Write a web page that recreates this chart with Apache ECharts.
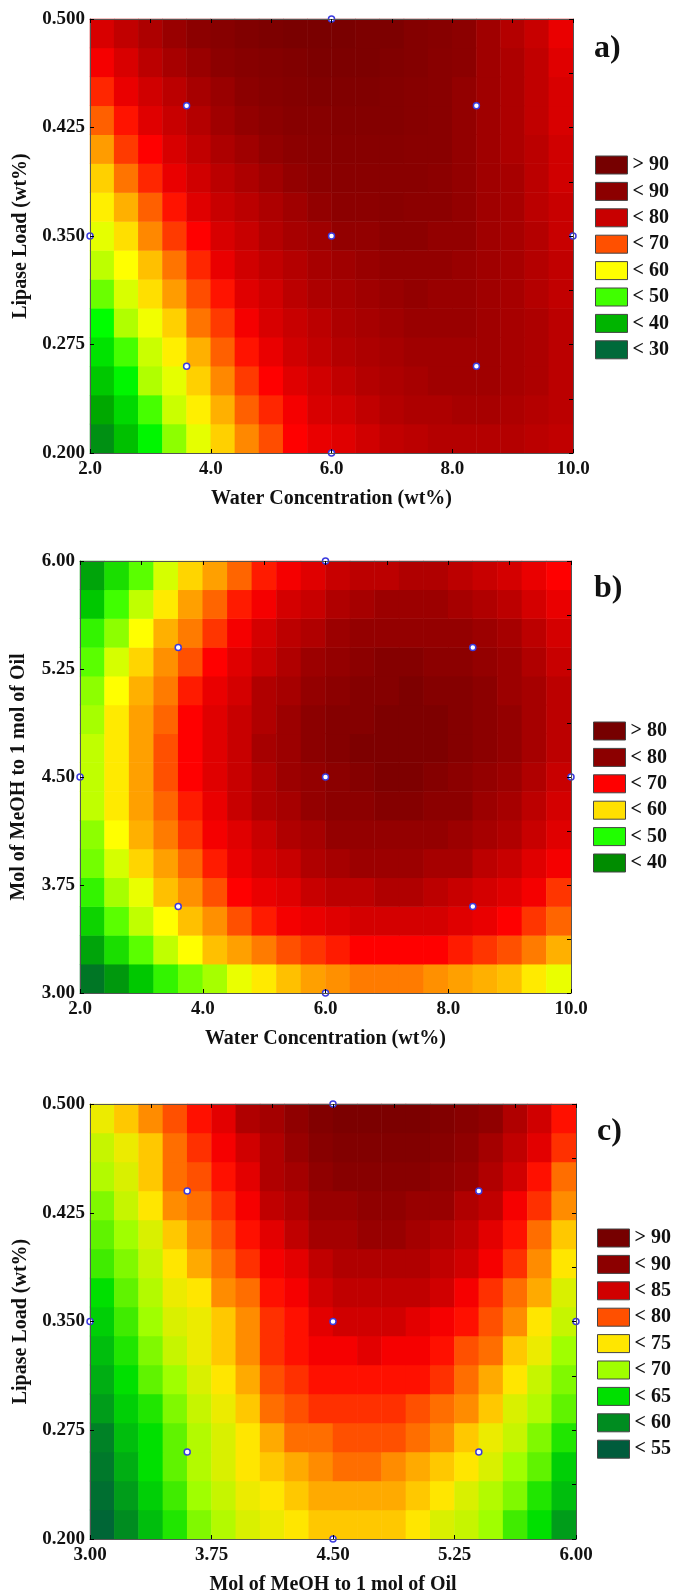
<!DOCTYPE html>
<html>
<head>
<meta charset="utf-8">
<script src="https://cdn.jsdelivr.net/npm/echarts@6/dist/echarts.min.js"></script>
<style>
  html, body { margin: 0; padding: 0; background: #fff; }
  #chart { width: 678px; height: 1596px; }
</style>
</head>
<body>
<div id="chart"></div>
<script>
// ====== 数据（从原图读取的网格值，单元格中心） ======
const waterCells = [2.2, 2.6, 3.0, 3.4, 3.8, 4.2, 4.6, 5.0, 5.4, 5.8, 6.2, 6.6, 7.0, 7.4, 7.8, 8.2, 8.6, 9.0, 9.4, 9.8];
const lipaseCells = [0.21, 0.23, 0.25, 0.27, 0.29, 0.31, 0.33, 0.35, 0.37, 0.39, 0.41, 0.43, 0.45, 0.47, 0.49];
const meohCells = [3.1, 3.3, 3.5, 3.7, 3.9, 4.1, 4.3, 4.5, 4.7, 4.9, 5.1, 5.3, 5.5, 5.7, 5.9];
const meohCellsX = [3.075, 3.225, 3.375, 3.525, 3.675, 3.825, 3.975, 4.125, 4.275, 4.425, 4.575, 4.725, 4.875, 5.025, 5.175, 5.325, 5.475, 5.625, 5.775, 5.925];

// a) 水 × 脂肪酶，行从下到上
const yieldA = [
  [34, 40, 46, 51, 56, 61, 65, 68, 72, 74, 75, 77, 79, 80, 81, 81, 81, 81, 80, 79],
  [37, 43, 49, 54, 59, 63, 67, 70, 73, 76, 77, 79, 81, 82, 82, 83, 83, 82, 81, 80],
  [41, 46, 52, 56, 61, 65, 69, 72, 75, 77, 79, 81, 82, 83, 84, 84, 84, 83, 82, 80],
  [44, 49, 54, 59, 63, 67, 71, 74, 77, 79, 81, 82, 83, 84, 84, 84, 84, 83, 82, 80],
  [47, 52, 57, 61, 66, 69, 73, 76, 78, 80, 82, 83, 84, 85, 85, 85, 84, 83, 82, 80],
  [50, 55, 60, 64, 68, 71, 75, 77, 80, 82, 83, 84, 85, 86, 85, 85, 84, 83, 81, 79],
  [53, 58, 62, 66, 70, 74, 77, 79, 81, 83, 84, 85, 86, 86, 86, 85, 84, 83, 81, 79],
  [56, 60, 65, 69, 72, 76, 78, 81, 83, 84, 86, 86, 87, 87, 86, 86, 84, 83, 81, 78],
  [59, 63, 67, 71, 75, 78, 80, 82, 84, 86, 87, 87, 88, 87, 87, 86, 84, 83, 80, 78],
  [61, 66, 70, 74, 77, 80, 82, 84, 86, 87, 88, 88, 88, 88, 87, 86, 84, 83, 80, 77],
  [64, 69, 72, 76, 79, 82, 84, 86, 87, 88, 89, 89, 89, 88, 88, 86, 84, 82, 80, 77],
  [67, 71, 75, 78, 81, 84, 86, 87, 89, 89, 90, 90, 90, 89, 88, 86, 84, 82, 79, 76],
  [70, 74, 77, 80, 83, 85, 87, 89, 90, 91, 91, 91, 90, 89, 88, 86, 84, 82, 79, 76],
  [73, 76, 80, 83, 85, 87, 89, 90, 91, 92, 92, 92, 91, 90, 88, 87, 84, 82, 79, 75],
  [76, 79, 82, 85, 87, 89, 91, 92, 93, 93, 93, 92, 92, 90, 89, 87, 84, 81, 78, 74]
];

// b) 水 × 甲醇摩尔比
const yieldB = [
  [36, 41, 45, 49, 52, 54, 57, 59, 61, 63, 64, 65, 65, 65, 64, 63, 62, 61, 59, 57],
  [42, 47, 51, 55, 58, 61, 63, 65, 67, 68, 69, 70, 70, 70, 70, 69, 68, 67, 65, 62],
  [46, 51, 55, 58, 61, 64, 67, 69, 71, 72, 73, 74, 74, 74, 74, 73, 72, 70, 68, 66],
  [49, 54, 57, 61, 64, 67, 70, 72, 73, 75, 76, 76, 77, 77, 76, 75, 74, 73, 71, 68],
  [52, 56, 60, 63, 66, 69, 72, 74, 75, 77, 78, 79, 79, 79, 78, 78, 76, 75, 73, 71],
  [53, 58, 62, 65, 68, 71, 73, 75, 77, 78, 80, 80, 80, 80, 80, 79, 78, 77, 75, 73],
  [55, 59, 63, 66, 69, 72, 75, 77, 78, 80, 81, 81, 82, 82, 81, 81, 79, 78, 76, 74],
  [55, 59, 63, 67, 70, 73, 75, 77, 79, 80, 81, 82, 83, 83, 82, 81, 80, 79, 77, 75],
  [55, 59, 63, 67, 70, 73, 75, 78, 79, 81, 82, 83, 83, 83, 83, 82, 81, 80, 78, 76],
  [54, 59, 63, 66, 70, 73, 75, 77, 79, 81, 82, 82, 83, 83, 83, 82, 81, 80, 78, 76],
  [53, 58, 62, 65, 69, 72, 74, 77, 78, 80, 81, 82, 82, 83, 82, 82, 81, 79, 78, 76],
  [51, 56, 60, 64, 67, 70, 73, 75, 77, 79, 80, 81, 82, 82, 81, 81, 80, 79, 77, 75],
  [49, 53, 58, 62, 65, 68, 71, 74, 76, 77, 79, 80, 80, 80, 80, 80, 79, 78, 76, 74],
  [45, 50, 55, 59, 63, 66, 69, 71, 74, 75, 77, 78, 79, 79, 79, 78, 77, 76, 74, 72],
  [42, 47, 51, 56, 60, 63, 66, 69, 71, 73, 75, 76, 76, 77, 77, 76, 75, 74, 72, 70]
];

// c) 甲醇摩尔比 × 脂肪酶
const yieldC = [
  [56, 60, 63, 66, 69, 71, 73, 74, 75, 76, 76, 76, 76, 75, 73, 72, 70, 67, 65, 61],
  [57, 61, 64, 67, 70, 72, 74, 75, 76, 77, 77, 77, 77, 76, 75, 73, 71, 69, 66, 63],
  [58, 62, 65, 68, 71, 73, 75, 76, 77, 78, 79, 79, 78, 77, 76, 75, 73, 70, 68, 64],
  [59, 63, 65, 68, 71, 73, 75, 77, 79, 79, 80, 80, 80, 79, 78, 76, 74, 72, 69, 66],
  [61, 64, 66, 69, 72, 74, 76, 79, 80, 81, 81, 81, 81, 80, 79, 78, 76, 73, 71, 68],
  [62, 65, 68, 70, 73, 75, 77, 80, 81, 82, 82, 82, 82, 82, 81, 79, 77, 75, 72, 69],
  [63, 66, 69, 72, 74, 76, 78, 81, 82, 83, 83, 84, 83, 83, 82, 80, 79, 76, 74, 70],
  [64, 67, 70, 73, 74, 76, 78, 81, 82, 84, 85, 85, 85, 84, 83, 82, 80, 78, 75, 72],
  [65, 68, 71, 74, 75, 78, 79, 82, 83, 85, 86, 86, 86, 86, 85, 83, 81, 79, 77, 73],
  [67, 69, 72, 75, 77, 79, 81, 83, 84, 86, 87, 87, 87, 87, 86, 85, 83, 81, 78, 75],
  [68, 70, 73, 76, 78, 80, 82, 84, 86, 88, 88, 89, 89, 88, 87, 86, 84, 82, 79, 76],
  [69, 72, 75, 78, 79, 81, 83, 86, 87, 89, 89, 90, 90, 89, 89, 87, 86, 83, 81, 78],
  [71, 73, 76, 79, 80, 82, 84, 87, 88, 90, 91, 91, 91, 91, 90, 89, 87, 85, 82, 79],
  [72, 74, 76, 79, 81, 83, 85, 87, 89, 91, 92, 92, 92, 92, 91, 90, 88, 86, 84, 81],
  [74, 76, 78, 80, 82, 84, 87, 88, 90, 92, 93, 93, 93, 93, 92, 91, 90, 87, 85, 82]
];

// 刻度
const waterTicks = [2, 4, 6, 8, 10];
const lipaseTicks = [0.2, 0.275, 0.35, 0.425, 0.5];
const meohTicks = [3, 3.75, 4.5, 5.25, 6];

// 实验设计点
const pointsA = [[2, 0.35], [3.6, 0.44], [3.6, 0.26], [6, 0.5], [6, 0.35], [6, 0.2], [8.4, 0.44], [8.4, 0.26], [10, 0.35]];
const pointsB = [[2, 4.5], [3.6, 5.4], [3.6, 3.6], [6, 6], [6, 4.5], [6, 3], [8.4, 5.4], [8.4, 3.6], [10, 4.5]];
const pointsC = [[3, 0.35], [3.6, 0.44], [3.6, 0.26], [4.5, 0.5], [4.5, 0.35], [4.5, 0.2], [5.4, 0.44], [5.4, 0.26], [6, 0.35]];

// 图例文字
const legendA = ['> 90', '< 90', '< 80', '< 70', '< 60', '< 50', '< 40', '< 30'];
const legendB = ['> 80', '< 80', '< 70', '< 60', '< 50', '< 40'];
const legendC = ['> 90', '< 90', '< 85', '< 80', '< 75', '< 70', '< 65', '< 60', '< 55'];

// ====== 样式 ======
const FONT = '"Liberation Serif", "Times New Roman", serif';
const legendColorsA = ['#760000', '#8c0000', '#c80000', '#ff5000', '#ffff00', '#40ff00', '#00b400', '#006a3a'];
const legendColorsB = ['#760000', '#8c0000', '#ff0000', '#ffe000', '#20ff00', '#008c00'];
const legendColorsC = ['#760000', '#8c0000', '#d00000', '#ff5000', '#ffe600', '#a0ff00', '#00e000', '#008c20', '#005c3c'];

// 色标锚点（值 → 颜色），按原图的细分色带取色
const stopsA = [[26, '#005a3c'], [30, '#00703a'], [36, '#00a000'], [42, '#00d000'], [47, '#00ff00'], [52, '#b0ff00'],
  [58, '#ffff00'], [63, '#ffb000'], [67, '#ff6000'], [72, '#ff0000'], [75, '#e00000'], [78, '#c80000'],
  [81, '#b40000'], [84, '#a00000'], [87, '#8c0000'], [90, '#840000'], [93, '#7a0000'], [96, '#760000']];
const stopsB = [[30, '#005a34'], [35, '#00702a'], [40, '#008c10'], [45, '#00c800'], [50, '#40ff00'], [55, '#c0ff00'],
  [58, '#ffff00'], [61, '#ffc000'], [64, '#ff9000'], [67, '#ff5000'], [70, '#ff0000'], [73, '#e00000'],
  [75, '#c80000'], [77, '#b00000'], [79, '#9c0000'], [81, '#8c0000'], [83, '#7e0000'], [86, '#760000']];
const stopsC = [[50, '#004a40'], [55, '#005c3c'], [60, '#008c20'], [65, '#00e000'], [70, '#a0ff00'], [75, '#ffe600'],
  [80, '#ff5000'], [82.5, '#ff0000'], [85, '#d00000'], [87, '#b00000'], [89, '#980000'], [91, '#880000'],
  [93, '#7c0000'], [95, '#780000']];

function hexToRgb(h) {
  const n = parseInt(h.slice(1), 16);
  return [(n >> 16) & 255, (n >> 8) & 255, n & 255];
}
function colorAt(stops, v) {
  if (v <= stops[0][0]) return stops[0][1];
  for (let k = 1; k < stops.length; k++) {
    if (v <= stops[k][0]) {
      const t = (v - stops[k - 1][0]) / (stops[k][0] - stops[k - 1][0]);
      const a = hexToRgb(stops[k - 1][1]), b = hexToRgb(stops[k][1]);
      return 'rgb(' + a.map((x, i) => Math.round(x + (b[i] - x) * t)).join(',') + ')';
    }
  }
  return stops[stops.length - 1][1];
}
// 每 1 个单位取一种颜色，近似原图的细分等值带
function scaleColors(stops) {
  const out = [];
  for (let v = stops[0][0]; v <= stops[stops.length - 1][0]; v += 1) out.push(colorAt(stops, v));
  return out;
}
function toCells(rows) {
  const out = [];
  rows.forEach((row, j) => row.forEach((v, i) => out.push([i, j, v])));
  return out;
}
function step(ticks) { return +(ticks[1] - ticks[0]).toFixed(6); }

// ====== 三个面板的布局 ======
const panels = [
  { grid: { left: 90, top: 19, width: 483, height: 434 },
    xCells: waterCells, yCells: lipaseCells, rows: yieldA, stops: stopsA,
    xTicks: waterTicks, yTicks: lipaseTicks, xDigits: 1, yDigits: 3, xMinor: 1, yMinor: 0.0375,
    xName: 'Water Concentration (wt%)', yName: 'Lipase Load (wt%)', yGap: 59,
    points: pointsA, legend: legendA, legendColors: legendColorsA, legendPos: [595, 155],
    tag: 'a)', tagPos: [594, 33] },
  { grid: { left: 80, top: 561, width: 491, height: 432 },
    xCells: waterCells, yCells: meohCells, rows: yieldB, stops: stopsB,
    xTicks: waterTicks, yTicks: meohTicks, xDigits: 1, yDigits: 2, xMinor: 1, yMinor: 0.375,
    xName: 'Water Concentration (wt%)', yName: 'Mol of MeOH to 1 mol of Oil', yGap: 51,
    points: pointsB, legend: legendB, legendColors: legendColorsB, legendPos: [593, 721],
    tag: 'b)', tagPos: [594, 573] },
  { grid: { left: 90, top: 1104, width: 486, height: 435 },
    xCells: meohCellsX, yCells: lipaseCells, rows: yieldC, stops: stopsC,
    xTicks: meohTicks, yTicks: lipaseTicks, xDigits: 2, yDigits: 3, xMinor: 0.375, yMinor: 0.0375,
    xName: 'Mol of MeOH to 1 mol of Oil', yName: 'Lipase Load (wt%)', yGap: 59,
    points: pointsC, legend: legendC, legendColors: legendColorsC, legendPos: [597, 1228],
    tag: 'c)', tagPos: [597, 1116] }
];

const labelStyle = { fontFamily: FONT, fontSize: 19, fontWeight: 'bold', color: '#111' };
const nameStyle = { fontFamily: FONT, fontSize: 20, fontWeight: 'bold', color: '#111' };
const edge = { show: true, lineStyle: { color: '#555', width: 1 } };
const tickIn = { show: true, inside: true, length: 4, lineStyle: { color: '#000', width: 1 } };

const option = {
  animation: false,
  backgroundColor: '#fff',
  title: [], grid: [], xAxis: [], yAxis: [], visualMap: [], legend: [], series: []
};

panels.forEach((p, gi) => {
  option.grid.push(Object.assign({ show: false }, p.grid));
  const xr = { min: p.xTicks[0], max: p.xTicks[p.xTicks.length - 1] };
  const yr = { min: p.yTicks[0], max: p.yTicks[p.yTicks.length - 1] };

  // 隐藏的类目轴（热力图用）+ 可见数值轴 + 上/右的刻度轴
  option.xAxis.push(
    { type: 'category', gridIndex: gi, data: p.xCells, show: false },
    Object.assign({ type: 'value', gridIndex: gi, position: 'bottom', z: 10, interval: step(p.xTicks),
      axisLine: edge, axisTick: tickIn, splitLine: { show: false },
      axisLabel: Object.assign({ margin: 7, formatter: v => v.toFixed(p.xDigits) }, labelStyle),
      name: p.xName, nameLocation: 'middle', nameGap: 36, nameTextStyle: nameStyle }, xr),
    Object.assign({ type: 'value', gridIndex: gi, position: 'top', z: 10, interval: p.xMinor,
      axisLine: edge, axisTick: tickIn, axisLabel: { show: false }, splitLine: { show: false } }, xr)
  );
  option.yAxis.push(
    { type: 'category', gridIndex: gi, data: p.yCells, show: false },
    Object.assign({ type: 'value', gridIndex: gi, position: 'left', z: 10, interval: step(p.yTicks),
      axisLine: edge, axisTick: tickIn, splitLine: { show: false },
      axisLabel: Object.assign({ margin: 5, formatter: v => v.toFixed(p.yDigits) }, labelStyle),
      name: p.yName, nameLocation: 'middle', nameGap: p.yGap, nameTextStyle: nameStyle }, yr),
    Object.assign({ type: 'value', gridIndex: gi, position: 'right', z: 10, interval: p.yMinor,
      axisLine: edge, axisTick: tickIn, axisLabel: { show: false }, splitLine: { show: false } }, yr)
  );

  option.visualMap.push({
    type: 'continuous', show: false, seriesIndex: gi, dimension: 2,
    min: p.stops[0][0], max: p.stops[p.stops.length - 1][0],
    inRange: { color: scaleColors(p.stops) }
  });

  option.title.push({
    text: p.tag, left: p.tagPos[0], top: p.tagPos[1], padding: 0,
    textStyle: { fontFamily: FONT, fontSize: 32, fontWeight: 'bold', color: '#111' }
  });

  const names = p.legend.map(t => p.tag + '|' + t);
  option.legend.push({
    data: names, orient: 'vertical', left: p.legendPos[0], top: p.legendPos[1], padding: 0,
    icon: 'rect', itemWidth: 32, itemHeight: 18, itemGap: 6.4, selectedMode: false,
    formatter: n => n.split('|')[1],
    itemStyle: { borderColor: '#444', borderWidth: 1, opacity: 1 },
    textStyle: { fontFamily: FONT, fontSize: 20, fontWeight: 'bold', color: '#111', lineHeight: 18 }
  });
});

// 热力图（索引 0..2）
panels.forEach((p, gi) => {
  option.series.push({
    type: 'heatmap', xAxisIndex: gi * 3, yAxisIndex: gi * 3,
    data: toCells(p.rows), itemStyle: { borderWidth: 0 }, emphasis: { disabled: true }
  });
});
// 设计点
panels.forEach((p, gi) => {
  option.series.push({
    type: 'scatter', xAxisIndex: gi * 3 + 1, yAxisIndex: gi * 3 + 1, z: 5, clip: true,
    data: p.points, symbolSize: 6,
    itemStyle: { color: '#fff', borderColor: '#3a3adf', borderWidth: 1.5, opacity: 1 }
  });
});
// 图例占位系列
panels.forEach((p, gi) => {
  p.legend.forEach((t, k) => {
    option.series.push({
      type: 'scatter', name: p.tag + '|' + t, xAxisIndex: gi * 3 + 1, yAxisIndex: gi * 3 + 1,
      data: [], itemStyle: { color: p.legendColors[k], opacity: 1 }
    });
  });
});

const chart = echarts.init(document.getElementById('chart'));
chart.setOption(option);
window.addEventListener('resize', () => chart.resize());
</script>
</body>
</html>
